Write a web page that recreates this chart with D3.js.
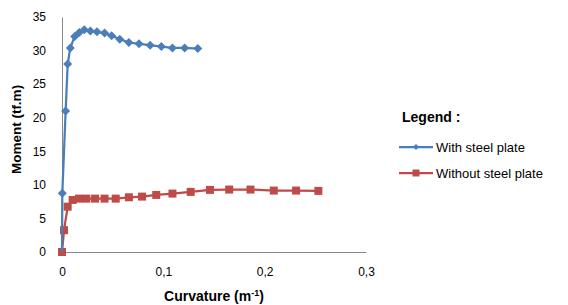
<!DOCTYPE html>
<html>
<head>
<meta charset="utf-8">
<script src="https://cdn.jsdelivr.net/npm/d3@7"></script>
<style>
  body { margin: 0; background: #fff; }
  svg text { font-family: "Liberation Sans", Arial, sans-serif; fill: #000; }
</style>
</head>
<body>
<div id="chart"></div>
<script>
// curvature (1/m) and moment (tf.m)
var withCurv = [0, 0.0003, 0.0036, 0.0056, 0.0082, 0.0125, 0.017, 0.022, 0.028, 0.0345, 0.042, 0.049, 0.057, 0.066, 0.076, 0.087, 0.098, 0.109, 0.121, 0.134];
var withMoment = [0, 8.75, 21.0, 28.0, 30.4, 32.1, 32.7, 33.1, 32.9, 32.8, 32.6, 32.2, 31.7, 31.2, 31.0, 30.8, 30.6, 30.4, 30.4, 30.3];

var withoutCurv = [0, 0.002, 0.0056, 0.0105, 0.0168, 0.024, 0.0326, 0.042, 0.053, 0.066, 0.079, 0.093, 0.109, 0.127, 0.146, 0.165, 0.186, 0.209, 0.231, 0.253];
var withoutMoment = [0, 3.25, 6.75, 7.75, 7.95, 7.95, 7.95, 7.95, 7.95, 8.15, 8.25, 8.5, 8.7, 8.95, 9.25, 9.3, 9.3, 9.15, 9.15, 9.1];

var xTicks = [0, 0.1, 0.2, 0.3];
var yTicks = [0, 5, 10, 15, 20, 25, 30, 35];
var seriesNames = ["With steel plate", "Without steel plate"];

var width = 568, height = 305;
var margin = {top: 17, right: 202, bottom: 53, left: 62};

var svg = d3.select("#chart").append("svg")
	.attr("width", width)
	.attr("height", height);

var x = d3.scaleLinear().domain([0, 0.3]).range([margin.left, width - margin.right]);
var y = d3.scaleLinear().domain([0, 35]).range([height - margin.bottom, margin.top]);

var fmt = function(d) { return d === 0 ? "0" : d3.format(".1f")(d).replace(".", ","); };

// axes
var xAxis = svg.append("g")
	.attr("transform", "translate(0," + y(0) + ")")
	.call(d3.axisBottom(x).tickValues(xTicks).tickFormat(fmt).tickSize(0).tickPadding(15));
var yAxis = svg.append("g")
	.attr("transform", "translate(" + x(0) + ",0)")
	.call(d3.axisLeft(y).tickValues(yTicks).tickSize(0).tickPadding(16));

[xAxis, yAxis].forEach(function(a) {
	a.select(".domain").attr("stroke", "#888").attr("stroke-width", 1);
	a.selectAll("text").style("font-size", "12px").attr("fill", "#000");
});

// axis titles
svg.append("text")
	.attr("transform", "translate(21," + ((y(0) + y(35)) / 2 - 5) + ") rotate(-90)")
	.attr("text-anchor", "middle")
	.style("font-size", "13.5px")
	.style("font-weight", "bold")
	.text("Moment (tf.m)");

var xt = svg.append("text")
	.attr("x", (x(0) + x(0.3)) / 2)
	.attr("y", 301)
	.attr("text-anchor", "middle")
	.style("font-size", "14px")
	.style("font-weight", "bold")
	.text("Curvature (m");
xt.append("tspan").attr("dy", -5).style("font-size", "9px").text("-1");
xt.append("tspan").attr("dy", 5).text(")");

var colors = ["#4A7EBB", "#BE4B48"];
var line = d3.line().x(function(d) { return x(d[0]); }).y(function(d) { return y(d[1]); });

var blueData = d3.zip(withCurv, withMoment);
var redData = d3.zip(withoutCurv, withoutMoment);

function diamond(sel, cx, cy, s) {
	sel.append("path")
		.attr("d", "M" + cx + "," + (cy - s) + "L" + (cx + s) + "," + cy + "L" + cx + "," + (cy + s) + "L" + (cx - s) + "," + cy + "Z")
		.attr("fill", colors[0]);
}
function square(sel, cx, cy, s) {
	sel.append("rect")
		.attr("x", cx - s).attr("y", cy - s)
		.attr("width", 2 * s).attr("height", 2 * s)
		.attr("fill", colors[1]);
}

// red series (drawn first, blue on top)
var redG = svg.append("g");
redG.append("path").datum(redData)
	.attr("d", line).attr("fill", "none")
	.attr("stroke", colors[1]).attr("stroke-width", 2.25);
redData.forEach(function(d) { square(redG, x(d[0]), y(d[1]), 4); });

var blueG = svg.append("g");
blueG.append("path").datum(blueData)
	.attr("d", line).attr("fill", "none")
	.attr("stroke", colors[0]).attr("stroke-width", 2.25);
blueData.slice(1).forEach(function(d) { diamond(blueG, x(d[0]), y(d[1]), 4.5); });

// legend
var lg = svg.append("g");
lg.append("text")
	.attr("x", 402).attr("y", 122)
	.style("font-size", "14px")
	.style("font-weight", "bold")
	.text("Legend :");

var legendY = [147, 173];
seriesNames.forEach(function(name, i) {
	lg.append("line")
		.attr("x1", 399).attr("x2", 433)
		.attr("y1", legendY[i]).attr("y2", legendY[i])
		.attr("stroke", colors[i]).attr("stroke-width", 2.25);
	if (i === 0) diamond(lg, 416, legendY[i], 3);
	else square(lg, 416, legendY[i], 3.5);
	lg.append("text")
		.attr("x", 436).attr("y", legendY[i] + 4.5)
		.style("font-size", "13px")
		.text(name);
});
</script>
</body>
</html>
